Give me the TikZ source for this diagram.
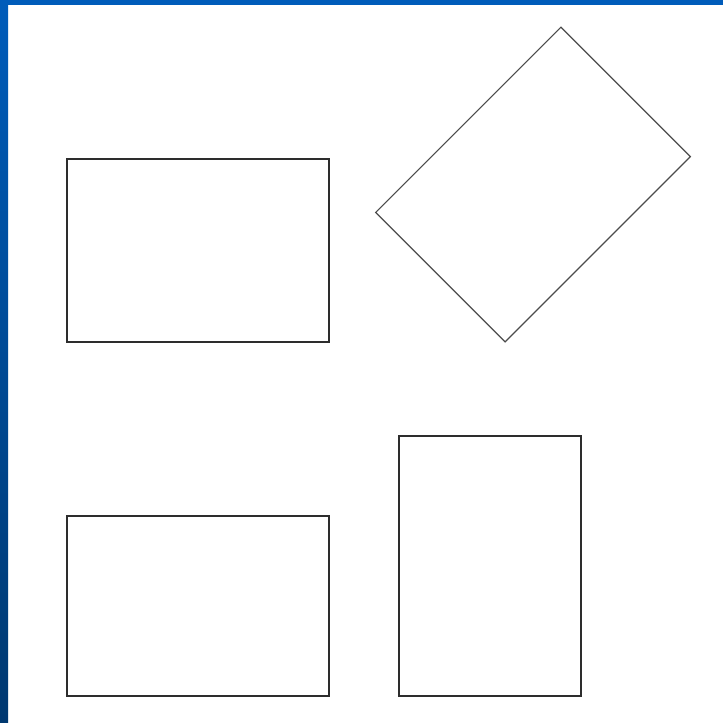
\documentclass[tikz,border=0pt]{standalone}
\usepackage{tikz}
\definecolor{slideblue}{RGB}{0,92,186}
\definecolor{slidenavy}{RGB}{0,56,112}
\definecolor{penline}{RGB}{45,45,45}

\begin{document}
\begin{tikzpicture}[
  x=1pt, y=-1pt,
  box/.style={draw=penline, line width=1.5pt, fill=white, inner sep=0pt,
              minimum width=#1},
  box/.default=262pt,
]
\useasboundingbox (0,0) rectangle (723,723);
\fill[white] (0,0) rectangle (723,723);
% slide frame
\shade[top color=slideblue, bottom color=slidenavy] (0,0) rectangle (8,723);
\fill[slideblue] (0,0) rectangle (723,5);
% shapes
\node[box, minimum height=183pt] (plain) at (198,250.5) {};
\node[box, minimum height=183pt, rotate=45, draw=penline!85, line width=1.2pt] (turned) at (533,184.5) {};
\node[box, minimum height=180pt] (lower) at (198,606) {};
\node[box=182pt, minimum height=260pt] (tall) at (490,566) {};
\end{tikzpicture}
\end{document}
